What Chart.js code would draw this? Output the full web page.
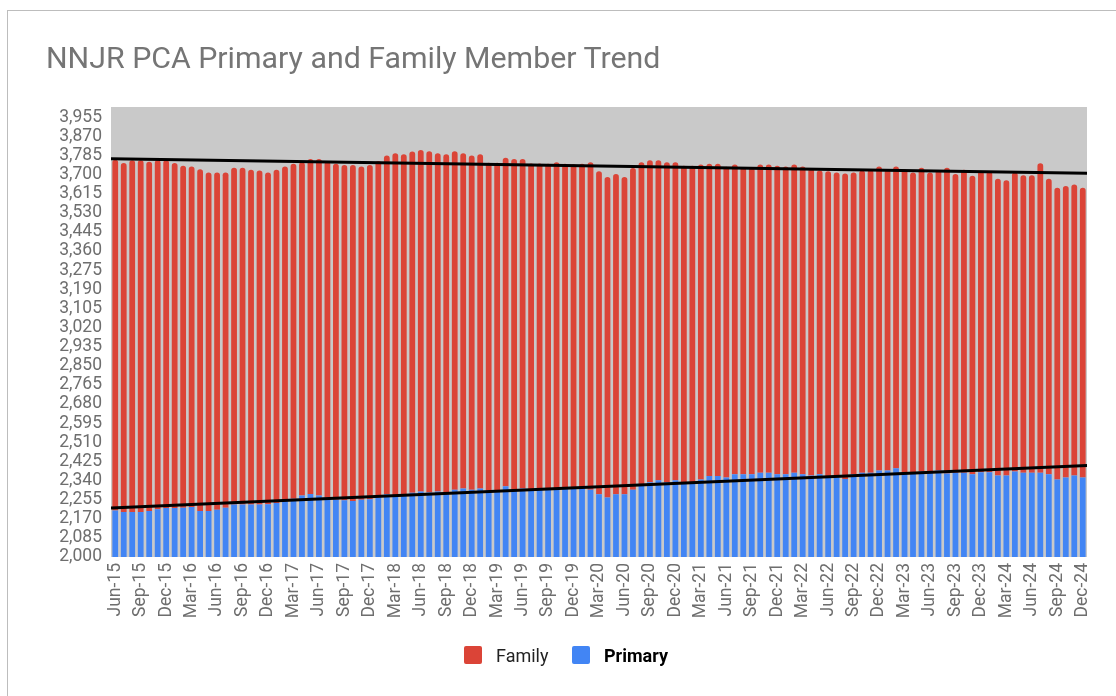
<!DOCTYPE html>
<html>
<head>
<meta charset="utf-8">
<script src="https://cdn.jsdelivr.net/npm/chart.js@4"></script>
<style>
  html, body { margin: 0; padding: 0; background: #fff; }
  body { width: 1116px; height: 696px; position: relative; overflow: hidden; font-family: Roboto, "Noto Sans", sans-serif; }
  .frame { position: absolute; left: 7px; top: 10px; right: -10px; bottom: -10px; border-top: 1px solid #bdbdbd; border-left: 1px solid #bdbdbd; }
  #chart { position: absolute; left: 0; top: 0; }
  h1 { position: absolute; left: 46px; top: 43px; margin: 0; font-weight: 400; font-size: 30.3px; line-height: 30px; color: #757575; white-space: nowrap; }
  .legend { position: absolute; top: 646px; height: 18px; display: flex; align-items: center; font-size: 18px; }
  .sw { width: 18px; height: 18px; border-radius: 2px; margin-right: 14px; }
</style>
</head>
<body>
<div class="frame"></div>
<canvas id="chart" width="1116" height="696"></canvas>
<h1>NNJR PCA Primary and Family Member Trend</h1>
<div class="legend" style="left:464px"><div class="sw" style="background:#db4437"></div><span style="color:#222">Family</span></div>
<div class="legend" style="left:572px"><div class="sw" style="background:#4285f4"></div><span style="color:#000;font-weight:700">Primary</span></div>
<script>
// Months Jun-15 .. Dec-24
const labels = [
  'Jun-15','Jul-15','Aug-15','Sep-15','Oct-15','Nov-15','Dec-15',
  'Jan-16','Feb-16','Mar-16','Apr-16','May-16','Jun-16','Jul-16','Aug-16','Sep-16','Oct-16','Nov-16','Dec-16',
  'Jan-17','Feb-17','Mar-17','Apr-17','May-17','Jun-17','Jul-17','Aug-17','Sep-17','Oct-17','Nov-17','Dec-17',
  'Jan-18','Feb-18','Mar-18','Apr-18','May-18','Jun-18','Jul-18','Aug-18','Sep-18','Oct-18','Nov-18','Dec-18',
  'Jan-19','Feb-19','Mar-19','Apr-19','May-19','Jun-19','Jul-19','Aug-19','Sep-19','Oct-19','Nov-19','Dec-19',
  'Jan-20','Feb-20','Mar-20','Apr-20','May-20','Jun-20','Jul-20','Aug-20','Sep-20','Oct-20','Nov-20','Dec-20',
  'Jan-21','Feb-21','Mar-21','Apr-21','May-21','Jun-21','Jul-21','Aug-21','Sep-21','Oct-21','Nov-21','Dec-21',
  'Jan-22','Feb-22','Mar-22','Apr-22','May-22','Jun-22','Jul-22','Aug-22','Sep-22','Oct-22','Nov-22','Dec-22',
  'Jan-23','Feb-23','Mar-23','Apr-23','May-23','Jun-23','Jul-23','Aug-23','Sep-23','Oct-23','Nov-23','Dec-23',
  'Jan-24','Feb-24','Mar-24','Apr-24','May-24','Jun-24','Jul-24','Aug-24','Sep-24','Oct-24','Nov-24','Dec-24'
];

const primary = [
  2207,2200,2200,2200,2204,2212,2218,2218,2219,2222,2204,2204,2210,2219,2233,2233,2233,2233,2235,2240,
  2249,2259,2273,2280,2273,2264,2255,2252,2249,2255,2257,2264,2279,2276,2276,2286,2291,2287,2291,2285,
  2299,2305,2299,2305,2297,2297,2314,2302,2305,2302,2302,2302,2305,2305,2308,2308,2299,2279,2265,2279,
  2279,2299,2319,2332,2341,2332,2341,2332,2332,2345,2360,2360,2353,2368,2368,2368,2374,2374,2368,2368,
  2374,2368,2362,2368,2359,2353,2347,2368,2374,2374,2385,2385,2394,2377,2377,2380,2380,2385,2371,2374,
  2374,2368,2377,2377,2362,2362,2380,2374,2374,2374,2368,2345,2353,2362,2353
];

const family = [
  1559,1551,1563,1563,1553,1551,1545,1533,1520,1514,1519,1505,1499,1490,1497,1497,1488,1485,1474,1481,
  1487,1489,1481,1489,1496,1493,1493,1490,1493,1481,1485,1496,1505,1519,1514,1516,1518,1516,1504,1505,
  1504,1490,1485,1485,1455,1455,1461,1467,1464,1447,1447,1446,1450,1443,1438,1440,1456,1436,1424,1423,
  1410,1430,1436,1431,1422,1423,1414,1407,1407,1399,1388,1388,1381,1376,1363,1362,1370,1370,1371,1368,
  1370,1368,1364,1350,1356,1356,1357,1341,1344,1346,1351,1337,1342,1345,1332,1350,1329,1335,1359,1328,
  1347,1327,1339,1336,1319,1313,1329,1323,1323,1376,1313,1296,1296,1294,1288
];

// Linear trendlines, value at left and right edge of the plot
const trendX = [-0.5, 114.5];
const trendTotal = [3770, 3706];
const trendPrimary = [2218, 2407];

const yMin = 2000, yMax = 4000;
const yTicks = [
  2000, 2085, 2170, 2255, 2340, 2425, 2510, 2595, 2680, 2765, 2850, 2935,
  3020, 3105, 3190, 3275, 3360, 3445, 3530, 3615, 3700, 3785, 3870, 3955
];

const plotBg = {
  id: 'plotBg',
  beforeDraw(chart) {
    const { ctx, chartArea: a } = chart;
    ctx.save();
    ctx.fillStyle = '#c9c9c9';
    ctx.fillRect(a.left, a.top, a.right - a.left, a.bottom - a.top);
    ctx.restore();
  }
};

const tickFont = { family: 'Roboto', size: 17.5 };

new Chart(document.getElementById('chart'), {
  data: {
    labels,
    datasets: [
      {
        type: 'bar', label: 'Primary', data: primary, order: 1, stack: 'members', grouped: false,
        backgroundColor: '#4285f4', borderWidth: 0,
        barPercentage: 0.68, categoryPercentage: 1.0
      },
      {
        type: 'bar', label: 'Family', data: family, order: 1, stack: 'members', grouped: false,
        backgroundColor: '#db4437', borderWidth: 0,
        borderRadius: { topLeft: 3, topRight: 3, bottomLeft: 0, bottomRight: 0 },
        borderSkipped: 'start',
        barPercentage: 0.68, categoryPercentage: 1.0
      },
      {
        type: 'line', label: 'Trend total', xAxisID: 'xt', stack: 't1', order: 0,
        data: trendX.map((x, i) => ({ x, y: trendTotal[i] })),
        borderColor: '#000', borderWidth: 3, pointRadius: 0, tension: 0
      },
      {
        type: 'line', label: 'Trend primary', xAxisID: 'xt', stack: 't2', order: 0,
        data: trendX.map((x, i) => ({ x, y: trendPrimary[i] })),
        borderColor: '#000', borderWidth: 3, pointRadius: 0, tension: 0
      }
    ]
  },
  options: {
    responsive: false,
    devicePixelRatio: 1,
    animation: false,
    layout: { padding: { top: 107, right: 29, bottom: 0, left: 0 } },
    plugins: { legend: { display: false }, tooltip: { enabled: false } },
    scales: {
      x: {
        stacked: true,
        grid: { display: false, drawTicks: false },
        border: { display: false },
        ticks: {
          autoSkip: false, minRotation: 90, maxRotation: 90, padding: 6,
          color: '#6e6e6e', font: tickFont,
          callback: (v, i) => (i % 3 === 0 ? labels[i] : '')
        },
        afterFit: s => { s.height = 139; }
      },
      xt: { type: 'linear', display: false, min: -0.5, max: 114.5 },
      y: {
        stacked: true,
        min: yMin, max: yMax,
        grid: { display: false, drawTicks: false },
        border: { display: false },
        ticks: {
          autoSkip: false, padding: 9, color: '#6e6e6e', font: tickFont,
          callback: v => v.toLocaleString('en-US')
        },
        afterBuildTicks: s => { s.ticks = yTicks.map(value => ({ value })); },
        afterFit: s => { s.width = 111; }
      }
    }
  },
  plugins: [plotBg]
});
</script>
</body>
</html>
